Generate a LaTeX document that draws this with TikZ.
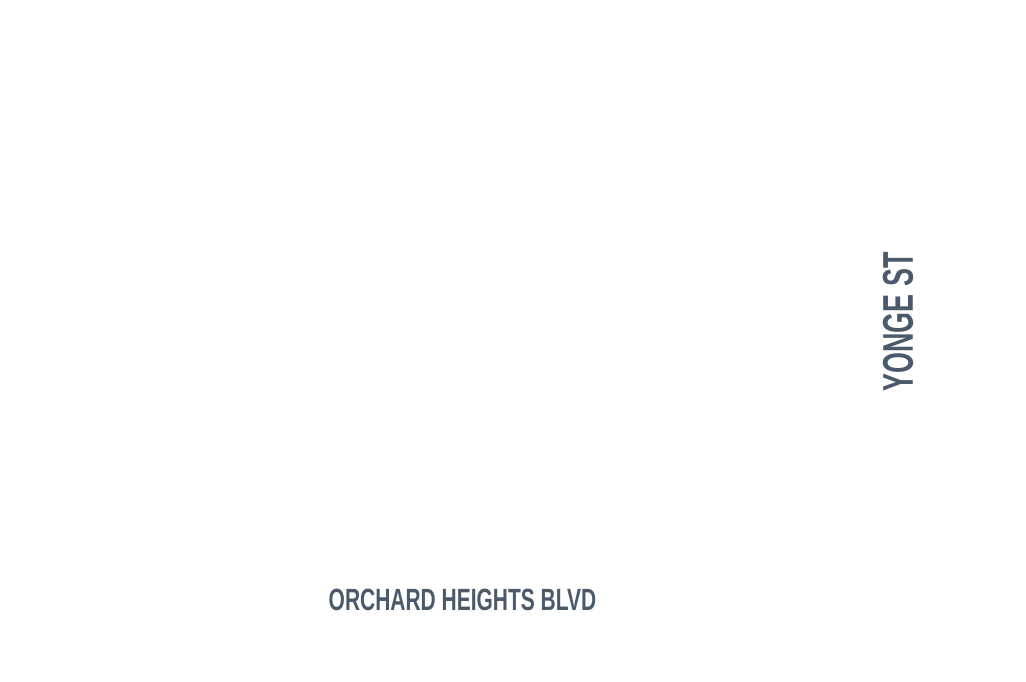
\documentclass[tikz,border=0pt]{standalone}
\usepackage{fontspec}
\setmainfont{Liberation Sans}
\definecolor{streetcol}{RGB}{74,90,106}
\tikzset{streetlabel/.style={text=streetcol,inner sep=0pt,font=\bfseries}}
\begin{document}
\begin{tikzpicture}[x=1pt,y=1pt]
\fill[white] (0,0) rectangle (1026,682);
\useasboundingbox (0,0) rectangle (1026,682);
\node[streetlabel] (orchard) at (462.5,82) {\scalebox{0.683}[1]{\fontsize{30.7}{36}\selectfont ORCHARD HEIGHTS BLVD}};
\node[streetlabel,rotate=90] (yonge) at (898,360) {\scalebox{0.625}[1]{\fontsize{43}{50}\selectfont YONGE ST}};
\end{tikzpicture}
\end{document}
